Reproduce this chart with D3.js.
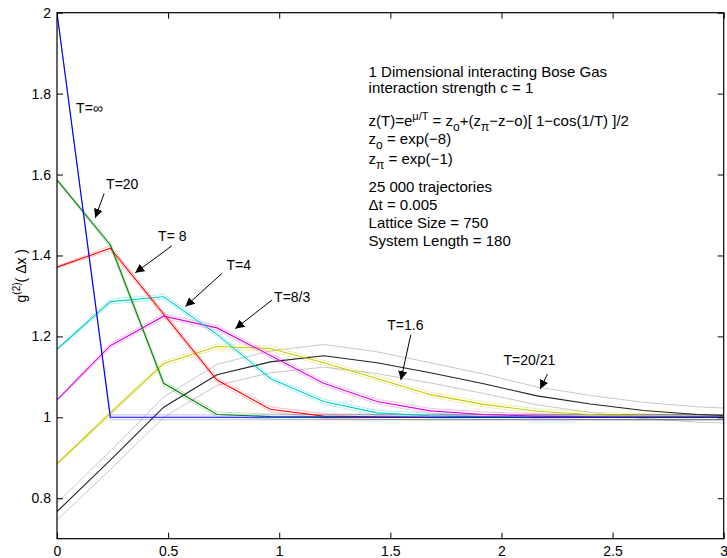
<!DOCTYPE html>
<html>
<head>
<meta charset="utf-8">
<script src="https://cdn.jsdelivr.net/npm/d3@7"></script>
<style>
  body { margin: 0; background: #fff; }
  svg { display: block; font-family: "Liberation Sans", Arial, Helvetica, sans-serif; }
</style>
</head>
<body>
<svg id="chart" width="727" height="558"></svg>
<script>
// separation dx (lattice points)
var dx = [0, 0.24, 0.48, 0.72, 0.96, 1.2, 1.44, 1.68, 1.92, 2.16, 2.4, 2.64, 2.88, 3.12];

var gInf   = [2.0, 1.0, 1.0, 1.0, 1.0, 1.0, 1.0, 1.0, 1.0, 1.0, 1.0, 1.0, 1.0, 1.0];
var gT20   = [1.587, 1.426, 1.084, 1.007, 1.002, 1.001, 1.0, 1.0, 1.0, 1.0, 1.0, 1.0, 1.0, 1.0];
var gT8    = [1.371, 1.418, 1.255, 1.092, 1.020, 1.003, 1.001, 1.0, 1.0, 1.0, 1.0, 1.0, 1.0, 1.0];
var gT4    = [1.168, 1.286, 1.298, 1.205, 1.096, 1.039, 1.011, 1.004, 1.001, 1.0, 1.0, 1.0, 1.0, 1.0];
var gT8_3  = [1.043, 1.177, 1.250, 1.221, 1.153, 1.084, 1.039, 1.016, 1.007, 1.003, 1.001, 1.0, 1.0, 1.0];
var gT1_6  = [0.885, 1.010, 1.133, 1.175, 1.170, 1.135, 1.096, 1.056, 1.032, 1.015, 1.007, 1.003, 1.002, 1.001];
var gT20_21 = [0.767, 0.894, 1.025, 1.105, 1.137, 1.152, 1.135, 1.110, 1.083, 1.053, 1.033, 1.017, 1.007, 1.002];

// statistical error (half width of the band)
var errColour = [0.002, 0.006, 0.006, 0.006, 0.006, 0.006, 0.006, 0.006, 0.006, 0.006, 0.006, 0.006, 0.006, 0.006];
var errT20_21 = [0.021, 0.023, 0.025, 0.026, 0.027, 0.028, 0.027, 0.025, 0.024, 0.022, 0.021, 0.020, 0.019, 0.018];

var xTicks = [0, 0.5, 1, 1.5, 2, 2.5, 3];
var yTicks = [0.8, 1, 1.2, 1.4, 1.6, 1.8, 2];

var series = [
    { name: 'T=20/21', g: gT20_21, err: errT20_21, c: '#222222', band: '#c8c8c8', bandOpacity: 1 },
    { name: 'T=1.6',   g: gT1_6,   err: errColour, c: '#c8c800', band: '#c8c800', bandOpacity: 0.3 },
    { name: 'T=8/3',   g: gT8_3,   err: errColour, c: '#e000e0', band: '#e000e0', bandOpacity: 0.25 },
    { name: 'T=4',     g: gT4,     err: errColour, c: '#00cccc', band: '#00cccc', bandOpacity: 0.3 },
    { name: 'T=8',     g: gT8,     err: errColour, c: '#ff0000', band: '#ff0000', bandOpacity: 0.25 },
    { name: 'T=20',    g: gT20,    err: errColour, c: '#008000', band: '#008000', bandOpacity: 0.25 },
    { name: 'T=inf',   g: gInf,    err: errColour, c: '#0000ff', band: '#0000ff', bandOpacity: 0.25 }
];

var margin = { top: 12.7, right: 3.3, bottom: 19.3, left: 57 };
var width = 727 - margin.left - margin.right;
var height = 558 - margin.top - margin.bottom;

var svg = d3.select('#chart');

var x = d3.scaleLinear().domain([0, 3]).range([0, width]);
var y = d3.scaleLinear().domain([0.7, 2]).range([height, 0]);

var g = svg.append('g')
    .attr('transform', 'translate(' + margin.left + ',' + margin.top + ')');

svg.append('defs').append('clipPath')
    .attr('id', 'clip')
    .append('rect')
    .attr('width', width)
    .attr('height', height);

svg.select('defs').append('marker')
    .attr('id', 'head')
    .attr('viewBox', '0 0 10 10')
    .attr('refX', 10)
    .attr('refY', 5)
    .attr('markerWidth', 9)
    .attr('markerHeight', 9)
    .attr('markerUnits', 'userSpaceOnUse')
    .attr('orient', 'auto')
    .append('path')
    .attr('d', 'M0,0 L10,5 L0,10 z')
    .attr('fill', '#000');

function line(vals) {
    return d3.line()
        .x(function(d, i) { return x(dx[i]); })
        .y(function(d) { return y(d); })(vals);
}

var plot = g.append('g').attr('clip-path', 'url(#clip)');

series.forEach(function(s) {
    var upper = s.g.map(function(v, i) { return v + s.err[i]; });
    var lower = s.g.map(function(v, i) { return v - s.err[i]; });
    [upper, lower].forEach(function(b) {
        plot.append('path')
            .attr('d', line(b))
            .attr('fill', 'none')
            .attr('stroke', s.band)
            .attr('stroke-opacity', s.bandOpacity)
            .attr('stroke-width', 1);
    });
});

series.forEach(function(s) {
    plot.append('path')
        .attr('d', line(s.g))
        .attr('fill', 'none')
        .attr('stroke', s.c)
        .attr('stroke-width', 1.1);
});

// axes, ticks inward on all sides
g.append('g')
    .attr('transform', 'translate(0,' + height + ')')
    .call(d3.axisBottom(x).tickValues(xTicks).tickSizeInner(-6).tickSizeOuter(0).tickPadding(7)
        .tickFormat(d3.format('~g')));
g.append('g')
    .call(d3.axisTop(x).tickValues(xTicks).tickSizeInner(-6).tickSizeOuter(0).tickFormat(''));
g.append('g')
    .call(d3.axisLeft(y).tickValues(yTicks).tickSizeInner(-6).tickSizeOuter(0).tickPadding(6)
        .tickFormat(d3.format('~g')));
g.append('g')
    .attr('transform', 'translate(' + width + ',0)')
    .call(d3.axisRight(y).tickValues(yTicks).tickSizeInner(-6).tickSizeOuter(0).tickFormat(''));

g.selectAll('.domain').remove();
g.selectAll('.tick line').attr('stroke', '#000');
g.selectAll('.tick text')
    .attr('fill', '#000')
    .style('font-size', '14px')
    .style('font-family', '"Liberation Sans", Arial, sans-serif');

g.append('rect')
    .attr('width', width)
    .attr('height', height)
    .attr('fill', 'none')
    .attr('stroke', '#000')
    .attr('stroke-width', 1.2);

// y label
var yl = svg.append('text')
    .attr('transform', 'translate(26,' + (margin.top + height / 2) + ') rotate(-90)')
    .attr('text-anchor', 'middle')
    .style('font-size', '14px');
yl.append('tspan').text('g');
yl.append('tspan').attr('dy', -6).style('font-size', '10px').text('(2)');
yl.append('tspan').attr('dy', 6).text('( Δx )');

// curve labels
var notes = [
    { t: 'T=∞',    tx: 0.086, ty: 1.752 },
    { t: 'T=20',   tx: 0.221, ty: 1.564, a: [0.212, 1.553, 0.172, 1.493] },
    { t: 'T= 8',   tx: 0.455, ty: 1.436, a: [0.517, 1.424, 0.352, 1.357] },
    { t: 'T=4',    tx: 0.763, ty: 1.364, a: [0.743, 1.356, 0.578, 1.274] },
    { t: 'T=8/3',  tx: 0.977, ty: 1.286, a: [0.968, 1.290, 0.802, 1.219] },
    { t: 'T=1.6',  tx: 1.486, ty: 1.216, a: [1.592, 1.204, 1.547, 1.092] },
    { t: 'T=20/21', tx: 2.009, ty: 1.130, a: [2.207, 1.107, 2.174, 1.070] }
];

notes.forEach(function(n) {
    g.append('text')
        .attr('x', x(n.tx))
        .attr('y', y(n.ty))
        .style('font-size', '14px')
        .text(n.t);
    if (n.a) {
        g.append('line')
            .attr('x1', x(n.a[0])).attr('y1', y(n.a[1]))
            .attr('x2', x(n.a[2])).attr('y2', y(n.a[3]))
            .attr('stroke', '#000')
            .attr('stroke-width', 1)
            .attr('marker-end', 'url(#head)');
    }
});

// info block
var bx = x(1.402);
function row(yy) {
    return g.append('text').attr('x', bx).attr('y', yy - margin.top).style('font-size', '15px');
}
row(77).text('1 Dimensional interacting Bose Gas');
row(93).text('interaction strength c = 1');

var r3 = row(126);
r3.append('tspan').text('z(T)=e');
r3.append('tspan').attr('dy', -6).style('font-size', '11px').text('μ/T');
r3.append('tspan').attr('dy', 6).text(' = z');
r3.append('tspan').attr('dy', 5).style('font-size', '12px').text('o');
r3.append('tspan').attr('dy', -5).text('+(z');
r3.append('tspan').attr('dy', 5).style('font-size', '12px').text('π');
r3.append('tspan').attr('dy', -5).text('−z−o)[ 1−cos(1/T) ]/2');

var r4 = row(144);
r4.append('tspan').text('z');
r4.append('tspan').attr('dy', 5).style('font-size', '12px').text('o');
r4.append('tspan').attr('dy', -5).text(' = exp(−8)');

var r5 = row(164);
r5.append('tspan').text('z');
r5.append('tspan').attr('dy', 5).style('font-size', '12px').text('π');
r5.append('tspan').attr('dy', -5).text(' = exp(−1)');

row(192).text('25 000 trajectories');
row(210).text('Δt = 0.005');
row(228).text('Lattice Size = 750');
row(246).text('System Length = 180');
</script>
</body>
</html>
